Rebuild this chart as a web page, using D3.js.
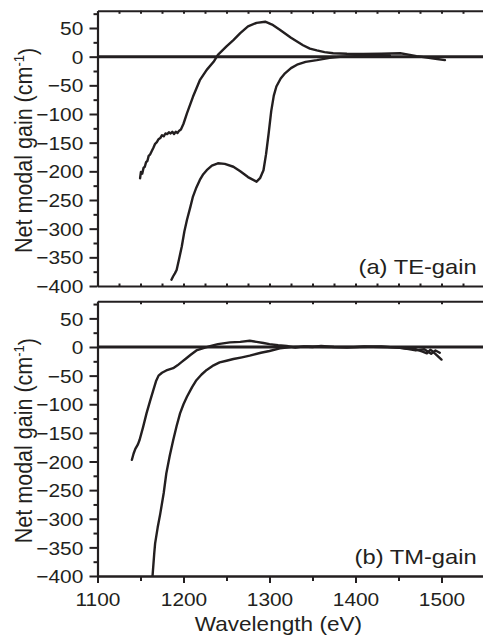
<!DOCTYPE html>
<html>
<head>
<meta charset="utf-8">
<script src="https://cdn.jsdelivr.net/npm/d3@7"></script>
<style>
html,body{margin:0;padding:0;background:#fff;}
svg{display:block;}
text{font-family:"Liberation Sans",Arial,Helvetica,sans-serif;fill:#231f20;}
</style>
</head>
<body>
<svg id="chart" width="483" height="639"></svg>
<script>
// ---- data (wavelength, net modal gain) ----
const teUpperWl = [1149.5,1150.5,1152,1153.5,1155,1156.5,1158,1159.5,1161,1163,1165,1167,1169,1171,1173,1175,1177,1179,1181,1183,1185,1187,1189,1191,1193,1195,1197,1200,1204,1211,1219,1227,1235,1240,1250,1258,1266,1275,1285,1295,1303,1312,1325,1339,1347,1355,1364,1374,1390,1409,1430,1452,1460,1471,1485,1495,1504];
const teUpperGain = [-212,-201,-204,-194,-192,-184,-182,-173,-171,-165,-159,-152,-149,-144,-142,-137,-139,-134,-135,-132,-134,-131,-135,-131,-133,-129,-127,-117,-99,-70,-41,-23,-9,3,18,29,41,53,59,61,56,47,33,20,14,11,8,6,5,4.7,5,6,4,1,-2,-4,-6];

const teLowerWl = [1186,1188,1190,1192,1195,1198,1201,1204,1208,1211,1215,1219,1223,1227,1233,1240,1248,1258,1266,1275,1285,1289,1293,1296,1299,1302,1305,1308,1313,1318,1325,1332,1342,1355,1370,1385,1400,1420,1440];
const teLowerGain = [-389,-383,-378,-372,-352,-331,-305,-285,-262,-244,-228,-215,-205,-198,-190,-186,-187,-192,-200,-210,-218,-212,-198,-170,-134,-95,-68,-52,-38,-29,-20,-14,-9,-6,-2,0,1,2,2];

const tmUpperWl = [1140,1142,1144,1147,1149,1153,1157,1161,1165,1168,1171,1175,1180,1188,1193,1198,1203,1208,1215,1225,1232,1240,1254,1266,1277,1285,1293,1300,1310,1320,1330,1340,1350,1360,1375,1390,1410,1430,1450,1460,1467,1472,1478,1483,1487,1490,1495,1500];
const tmUpperGain = [-197,-186,-178,-170,-162,-140,-116,-95,-75,-60,-50,-45,-41,-37,-32,-26,-20,-14,-6,-1,2,5,8,9,11,9,7,5,3,2,-1,1,0,2,0,-1,1,0,-1,-3,-2,-5,-8,-11,-5,-8,-15,-22];

const tmLowerWl = [1164,1166,1167,1170,1173,1177,1180,1184,1188,1192,1196,1200,1204,1210,1215,1221,1227,1235,1242,1250,1258,1268,1277,1290,1300,1312,1325,1345,1370,1400,1430,1455,1470,1480,1488,1493,1498];
const tmLowerGain = [-400,-360,-343,-315,-291,-255,-221,-190,-163,-138,-116,-100,-87,-70,-58,-48,-40,-32,-27,-24,-21,-18,-15,-10,-7,-2.5,0,1,0,0,1,-2,-6,-4,-12,-6,-10];

const xTickValues = [1100,1200,1300,1400,1500];
const yTickValues = [-400,-350,-300,-250,-200,-150,-100,-50,0,50];
const panelLabels = ["(a) TE-gain","(b) TM-gain"];
const yTitle = "Net modal gain (cm";
const yTitleSup = "-1";
const xTitle = "Wavelength (eV)";

// ---- layout ----
const svg = d3.select("#chart");
const ink = "#231f20";
const X0 = 97.5, X1 = 484.5;
const x = d3.scaleLinear().domain([1100,1550]).range([X0, X1]);
const panels = [
  {top:10.8, bottom:286, series:[[teUpperWl,teUpperGain],[teLowerWl,teLowerGain]], label:panelLabels[0], topStep:25, botStep:25, labels:false},
  {top:301.2, bottom:576, series:[[tmUpperWl,tmUpperGain],[tmLowerWl,tmLowerGain]], label:panelLabels[1], topStep:50, botStep:null, labels:true}
];
const SX = 1.13; // horizontal stretch of glyphs in the original

function styleAxis(g, w){
  g.selectAll("path.domain").attr("stroke", ink).attr("stroke-width", w);
  g.selectAll(".tick line").attr("stroke", ink).attr("stroke-width", 2);
}

panels.forEach((p, i) => {
  const y = d3.scaleLinear().domain([-400,80]).range([p.bottom, p.top]);
  const clipId = "clip"+i;
  svg.append("clipPath").attr("id", clipId).append("rect")
    .attr("x", X0).attr("y", p.top).attr("width", X1-X0).attr("height", p.bottom-p.top);

  // zero line
  svg.append("line").attr("x1", X0).attr("x2", X1).attr("y1", y(0)).attr("y2", y(0))
    .attr("stroke", ink).attr("stroke-width", 3);

  // curves
  const line = d3.line().x(d => x(d[0])).y(d => y(d[1])).curve(d3.curveLinear);
  p.series.forEach(([wl, g]) => {
    svg.append("path").datum(wl.map((w, k) => [w, g[k]]))
      .attr("d", line).attr("fill", "none").attr("stroke", ink)
      .attr("stroke-width", 2.4).attr("stroke-linejoin", "round").attr("stroke-linecap", "round")
      .attr("clip-path", `url(#${clipId})`);
  });

  // top border with small inward ticks
  const topVals = d3.range(1100 + p.topStep, 1551, p.topStep);
  const gTop = svg.append("g").attr("transform", `translate(0,${p.top})`)
    .call(d3.axisBottom(x).tickValues(topVals).tickSize(3).tickSizeOuter(0).tickFormat(""));
  styleAxis(gTop, 2);

  // bottom border
  if (!p.labels) {
    const gB = svg.append("g").attr("transform", `translate(0,${p.bottom})`)
      .call(d3.axisTop(x).tickValues(d3.range(1125, 1551, p.botStep)).tickSize(2.5).tickSizeOuter(0).tickFormat(""));
    styleAxis(gB, 2);
  } else {
    const gMinor = svg.append("g").attr("transform", `translate(0,${p.bottom})`)
      .call(d3.axisBottom(x).tickValues([1150,1250,1350,1450,1550]).tickSize(5).tickSizeOuter(0).tickFormat(""));
    styleAxis(gMinor, 2);
    const gB = svg.append("g").attr("transform", `translate(0,${p.bottom})`)
      .call(d3.axisBottom(x).tickValues(xTickValues).tickSize(7).tickSizeOuter(0).tickFormat(d3.format("d")));
    styleAxis(gB, 2);
    gB.selectAll(".tick text").attr("y", 0).attr("dy", 0)
      .attr("transform", `translate(0,30) scale(${SX},1)`)
      .style("font-size", "18.5px").style("font-family", "'Liberation Sans',Arial,sans-serif").attr("fill", ink);
  }

  // left axis: minor then major
  const gLm = svg.append("g").attr("transform", `translate(${X0},0)`)
    .call(d3.axisLeft(y).tickValues(d3.range(-375, 80, 50)).tickSize(4).tickSizeOuter(0).tickFormat(""));
  styleAxis(gLm, 2);
  const gL = svg.append("g").attr("transform", `translate(${X0},0)`)
    .call(d3.axisLeft(y).tickValues(yTickValues).tickSize(8).tickSizeOuter(0).tickFormat(d3.format("d")));
  styleAxis(gL, 2.2);
  gL.selectAll(".tick text").attr("x", -12.6).attr("dy", "0.36em")
    .attr("transform", `scale(${SX},1)`)
    .style("font-size", "18.5px").style("font-family", "'Liberation Sans',Arial,sans-serif").attr("fill", ink);

  // panel label
  svg.append("text").attr("transform", `translate(476.7,${p.bottom - 12}) scale(${SX},1)`)
    .attr("text-anchor", "end").style("font-size", "21px").text(p.label);

  // y title
  const yt = svg.append("text")
    .attr("transform", `translate(31.5,${(p.top + p.bottom)/2 + 2}) scale(${SX},1) rotate(-90)`)
    .attr("text-anchor", "middle").style("font-size", "21.5px");
  yt.append("tspan").text(yTitle);
  yt.append("tspan").attr("dy", "-0.5em").style("font-size", "13px").text(yTitleSup);
  yt.append("tspan").attr("dy", "0.5em").text(")");
});

// x title
svg.append("text").attr("transform", `translate(278.4,631) scale(${SX},1)`)
  .attr("text-anchor", "middle").style("font-size", "20px").text(xTitle);
</script>
</body>
</html>
